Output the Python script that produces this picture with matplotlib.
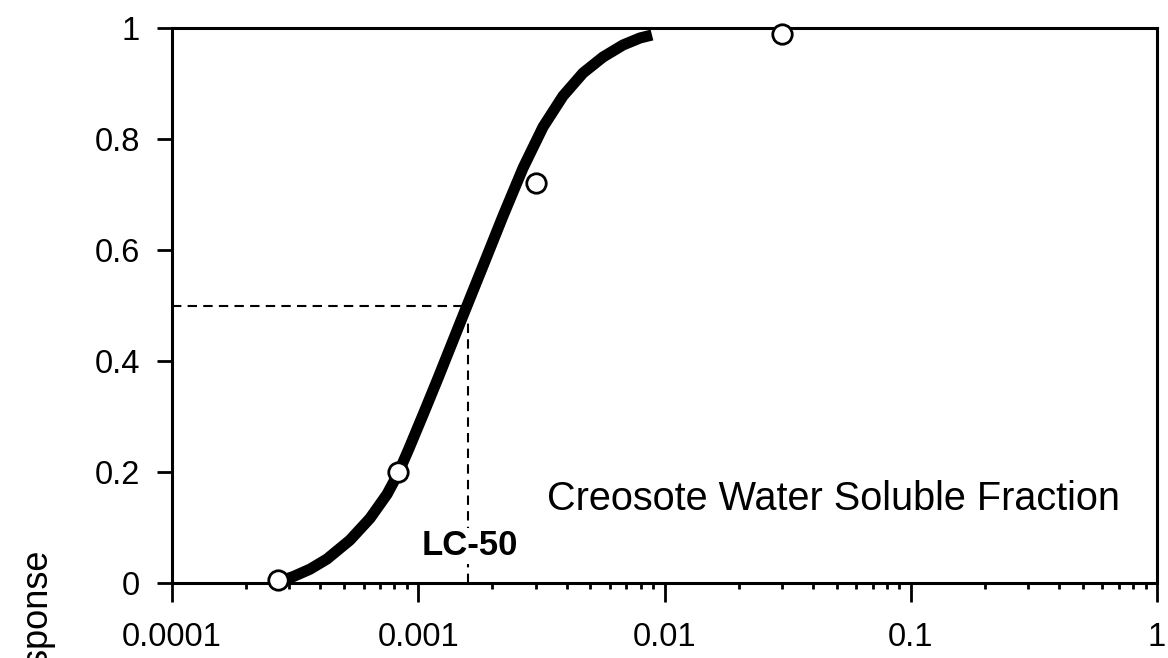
import matplotlib
matplotlib.use("Agg")
import matplotlib.pyplot as plt
from matplotlib.ticker import FixedLocator, NullFormatter, LogLocator

plt.rcParams['font.family'] = ['Liberation Sans', 'DejaVu Sans']

# Observed data points
obs_x = [0.00027, 0.00083, 0.0030, 0.030]
obs_y = [0.005, 0.20, 0.72, 0.99]

# Fitted curve
curve_x = [0.0002824, 0.000310, 0.0003634, 0.000426, 0.000528, 0.000637, 0.000747,
           0.0008277, 0.000917, 0.001055, 0.001203, 0.001371, 0.001548, 0.001832,
           0.002209, 0.002664, 0.003211, 0.003871, 0.004667, 0.005627, 0.006785,
           0.007952, 0.008896]
curve_y = [0.0054, 0.0114, 0.0249, 0.0432, 0.0773, 0.1166, 0.1600,
           0.1968, 0.2423, 0.3072, 0.3690, 0.4321, 0.4906, 0.5712,
           0.6613, 0.7477, 0.8216, 0.8775, 0.9189, 0.9477, 0.9694,
           0.9820, 0.9874]

lc50_x = 0.00159
lc50_y = 0.5

x_ticks = [0.0001, 0.001, 0.01, 0.1, 1]
x_labels = ['0.0001', '0.001', '0.01', '0.1', '1']
y_ticks = [0, 0.2, 0.4, 0.6, 0.8, 1]
y_labels = ['0', '0.2', '0.4', '0.6', '0.8', '1']

W, H = 1168, 658
fig = plt.figure(figsize=(W / 100, H / 100), dpi=100)
ax = fig.add_axes([172 / W, 1 - 583 / H, (1157 - 172) / W, (583 - 28) / H])

ax.set_xscale('log')
ax.set_xlim(0.0001, 1)
ax.set_ylim(0, 1)

# dashed LC-50 guide lines
ax.plot([0.0001, lc50_x], [lc50_y, lc50_y], color='black', lw=1.5,
        linestyle=(0, (4.5, 3)), zorder=2)
ax.plot([lc50_x, lc50_x], [0, 0.47], color='black', lw=1.5,
        linestyle=(0, (4.5, 3)), zorder=2)

ax.plot(curve_x, curve_y, color='black', lw=8, solid_capstyle='butt',
        solid_joinstyle='round', zorder=3)
ax.plot(obs_x, obs_y, linestyle='none', marker='o', markersize=14,
        markerfacecolor='white', markeredgecolor='black', markeredgewidth=2.0,
        zorder=4, clip_on=False)

ax.text(lc50_x * 1.02, 0.05, 'LC-50', ha='center', va='baseline', fontsize=25,
        fontweight='bold', zorder=5,
        bbox=dict(facecolor='white', edgecolor='none', pad=1))
ax.text((1120 - 172) / 985, (583 - 499) / 555, 'Creosote Water Soluble Fraction',
        ha='right', va='center', fontsize=28.5, transform=ax.transAxes)

ax.xaxis.set_major_locator(FixedLocator(x_ticks))
ax.set_xticklabels(x_labels)
ax.xaxis.set_minor_locator(LogLocator(base=10, subs=range(2, 10)))
ax.xaxis.set_minor_formatter(NullFormatter())
ax.set_yticks(y_ticks)
ax.set_yticklabels(y_labels)

ax.tick_params(axis='x', which='major', direction='out', length=14, width=2,
               labelsize=23.5, pad=14, top=False)
ax.tick_params(axis='x', which='minor', direction='out', length=4.5, width=2,
               top=False)
ax.tick_params(axis='y', which='major', direction='out', length=11, width=2,
               labelsize=23.5, pad=12, right=False)
for s in ax.spines.values():
    s.set_linewidth(2.2)

fig.text(35 / W, 1 - 548 / H, 'Response', rotation=90, ha='center', va='top',
         fontsize=26)

fig.savefig('out.png', dpi=100)
